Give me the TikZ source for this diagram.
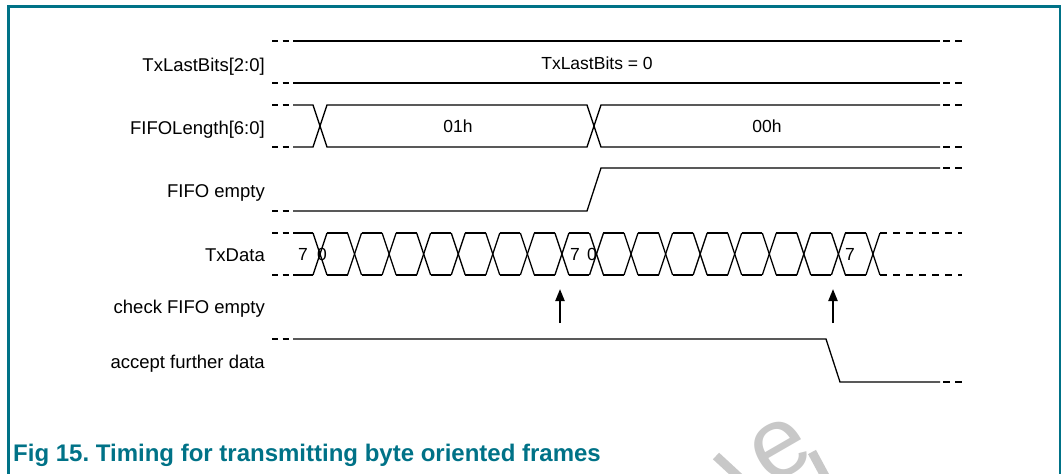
\documentclass[tikz,border=0pt]{standalone}
\usepackage{fontspec}
\setmainfont{Liberation Sans}
\usetikzlibrary{arrows.meta}
\definecolor{nxpteal}{RGB}{0,114,135}
\definecolor{wmgray}{RGB}{200,200,200}
\frenchspacing
\begin{document}
\begin{tikzpicture}[x=1pt,y=-1pt,
  sig/.style={line width=1.3pt, black, line join=miter},
  dsh/.style={line width=1.6pt, black, dash pattern=on 6pt off 4.5pt},
  dshr/.style={line width=1.6pt, black, dash pattern=on 7pt off 5pt},
  dshbus/.style={line width=1.6pt, black, dash pattern=on 6.8pt off 6.2pt},
  lbl/.style={anchor=base east, font=\fontsize{18.5}{21}\selectfont, inner sep=0pt},
  val/.style={anchor=base, font=\fontsize{17.5}{20}\selectfont, inner sep=0pt},
  chk/.style={line width=2.2pt, -{Triangle[width=9pt,length=12pt]}},
  capt/.style={anchor=base west, font=\fontsize{24}{28}\bfseries\selectfont, text=nxpteal, inner sep=0pt}]
\useasboundingbox (0,0) rectangle (1061,474);
% watermark
\node[text=wmgray, rotate=30, font=\fontsize{100}{100}\selectfont, inner sep=0pt] (wm) at (780,450) {e};
\draw[wmgray, line width=9pt] (716,456) -- (742,480);
\draw[wmgray, line width=9pt] (812,452) -- (826,478);
% frame
\draw[nxpteal, line width=3pt] (8.5,474) -- (8.5,6) -- (1060,6);
\draw[nxpteal, line width=2pt] (1060,5) -- (1060,474);
% labels
\node[lbl] (l1) at (265,71) {TxLastBits[2:0]};
\node[lbl] (l2) at (265,134) {FIFOLength[6:0]};
\node[lbl] (l3) at (265,197) {FIFO empty};
\node[lbl] (l4) at (265,261) {TxData};
\node[lbl] (l5) at (265,313) {check FIFO empty};
\node[lbl] (l6) at (265,368) {accept further data};
% row 1
\draw[sig] (293,41) -- (940,41);
\draw[sig] (293,83) -- (940,83);
\foreach \y in {41,83}{
  \draw[dsh] (272,\y) -- (293,\y);
  \draw[dshr] (943,\y) -- (962,\y);
}
\node[val] (v1) at (597,69) {TxLastBits = 0};
% row 2
\draw[sig] (293,105) -- (313,105) -- (327,147) -- (587,147) -- (601,105) -- (940,105);
\draw[sig] (293,147) -- (313,147) -- (327,105) -- (587,105) -- (601,147) -- (940,147);
\foreach \y in {105,147}{
  \draw[dsh] (272,\y) -- (293,\y);
  \draw[dshr] (943,\y) -- (962,\y);
}
\node[val] (v2) at (458,132) {01h};
\node[val] (v3) at (767,132) {00h};
% row 3
\draw[sig] (293,211) -- (587,211) -- (601,168) -- (940,168);
\draw[dsh] (272,211) -- (293,211);
\draw[dshr] (943,168) -- (962,168);
% row 4 : TxData bus
\foreach \y in {233,275}{
  \draw[dsh] (272,\y) -- (293,\y);
  \draw[dshbus] (880,\y) -- (962,\y);
}
\draw[sig] (293,233) -- (313,233);
\draw[sig] (293,275) -- (313,275);
\foreach \k in {0,...,16}{
  \pgfmathsetmacro{\cx}{320+34.56*\k}
  \draw[sig] (\cx-7,233) -- (\cx+7,275);
  \draw[sig] (\cx-7,275) -- (\cx+7,233);
}
\foreach \k in {0,...,15}{
  \pgfmathsetmacro{\ca}{320+34.56*\k+7}
  \pgfmathsetmacro{\cb}{320+34.56*(\k+1)-7}
  \draw[sig] (\ca,233) -- (\cb,233);
  \draw[sig] (\ca,275) -- (\cb,275);
}
\node[val] (d1) at (303,260) {7};
\node[val] (d2) at (322,260) {0};
\node[val] (d3) at (575,260) {7};
\node[val] (d4) at (592,260) {0};
\node[val] (d5) at (850,260) {7};
% check arrows
\coordinate (a1s) at (560,323);
\coordinate (a1e) at (560,289);
\coordinate (a2s) at (833,323);
\coordinate (a2e) at (833,289);
\draw[chk] (a1s) -- (a1e);
\draw[chk] (a2s) -- (a2e);
% row 6
\draw[sig] (293,339) -- (826,339) -- (840,382) -- (940,382);
\draw[dsh] (272,339) -- (293,339);
\draw[dshr] (943,382) -- (962,382);
% caption
\node[capt] (cap) at (13,461) {Fig 15. Timing for transmitting byte oriented frames};
\end{tikzpicture}
\end{document}
